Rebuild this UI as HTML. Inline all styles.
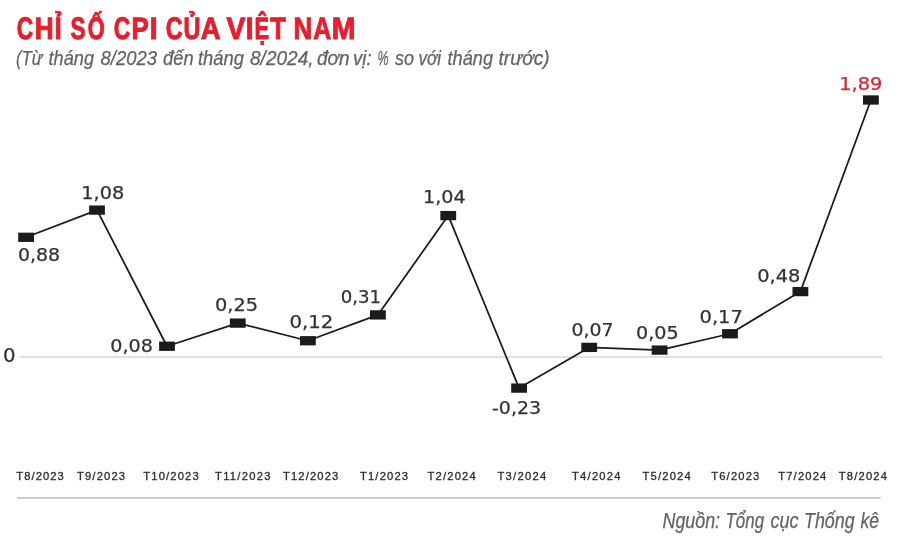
<!DOCTYPE html>
<html lang="vi"><head><meta charset="utf-8"><title>Chỉ số CPI của Việt Nam</title>
<style>
html,body{margin:0;padding:0;background:#fff}
svg{display:block}
.t{font-family:"Liberation Sans",sans-serif;font-weight:bold;fill:#e81e2c;stroke:#e81e2c;stroke-width:1.0;stroke-linejoin:miter;text-rendering:geometricPrecision}
.s{font-family:"Liberation Sans",sans-serif;font-style:italic;fill:#626262;stroke:#626262;stroke-width:.25}
.d{font-family:"DejaVu Sans","Liberation Sans",sans-serif;stroke-width:.25}
.x{font-family:"Liberation Sans",sans-serif;fill:#2b2b2b;stroke:#2b2b2b;stroke-width:.3}
</style></head><body>
<svg width="900" height="538" viewBox="0 0 900 538">
<rect width="900" height="538" fill="#fff"/>
<line x1="20" y1="357" x2="882" y2="357" stroke="#d6d6d6" stroke-width="1.7"/>
<line x1="17" y1="497.9" x2="880.7" y2="497.9" stroke="#c9c9c9" stroke-width="1.7"/>
<polyline fill="none" stroke="#1a1a1a" stroke-width="1.75" stroke-linejoin="round" points="26.10,237.30 97.00,210.10 167.00,346.25 237.75,323.10 307.90,340.75 377.90,314.90 448.25,215.60 519.10,388.10 589.20,347.40 659.60,350.10 730.00,333.75 800.40,291.60 870.90,100.00"/>
<rect x="18.20" y="232.65" width="15.8" height="9.3" fill="#1d1a1b"/>
<rect x="89.10" y="205.45" width="15.8" height="9.3" fill="#1d1a1b"/>
<rect x="159.10" y="341.60" width="15.8" height="9.3" fill="#1d1a1b"/>
<rect x="229.85" y="318.45" width="15.8" height="9.3" fill="#1d1a1b"/>
<rect x="300.00" y="336.10" width="15.8" height="9.3" fill="#1d1a1b"/>
<rect x="370.00" y="310.25" width="15.8" height="9.3" fill="#1d1a1b"/>
<rect x="440.35" y="210.95" width="15.8" height="9.3" fill="#1d1a1b"/>
<rect x="511.20" y="383.45" width="15.8" height="9.3" fill="#1d1a1b"/>
<rect x="581.30" y="342.75" width="15.8" height="9.3" fill="#1d1a1b"/>
<rect x="651.70" y="345.45" width="15.8" height="9.3" fill="#1d1a1b"/>
<rect x="722.10" y="329.10" width="15.8" height="9.3" fill="#1d1a1b"/>
<rect x="792.50" y="286.95" width="15.8" height="9.3" fill="#1d1a1b"/>
<rect x="863.00" y="95.35" width="15.8" height="9.3" fill="#1d1a1b"/>
<text class="t" y="39.00" font-size="31" aria-label="CHỈ SỐ CPI CỦA VIỆT NAM"><tspan x="16.85" textLength="16.48" lengthAdjust="spacingAndGlyphs">C</tspan><tspan x="34.63" textLength="18.88" lengthAdjust="spacingAndGlyphs">H</tspan><tspan x="54.62" textLength="7.23" lengthAdjust="spacingAndGlyphs">Ỉ</tspan> <tspan x="70.53" textLength="15.06" lengthAdjust="spacingAndGlyphs">S</tspan><tspan x="87.64" textLength="17.06" lengthAdjust="spacingAndGlyphs">Ố</tspan> <tspan x="113.85" textLength="16.52" lengthAdjust="spacingAndGlyphs">C</tspan><tspan x="131.47" textLength="17.23" lengthAdjust="spacingAndGlyphs">P</tspan><tspan x="149.69" textLength="7.77" lengthAdjust="spacingAndGlyphs">I</tspan> <tspan x="165.69" textLength="16.82" lengthAdjust="spacingAndGlyphs">C</tspan><tspan x="183.56" textLength="17.00" lengthAdjust="spacingAndGlyphs">Ủ</tspan><tspan x="200.63" textLength="18.80" lengthAdjust="spacingAndGlyphs">A</tspan> <tspan x="226.44" textLength="18.89" lengthAdjust="spacingAndGlyphs">V</tspan><tspan x="245.70" textLength="7.77" lengthAdjust="spacingAndGlyphs">I</tspan><tspan x="254.38" textLength="14.60" lengthAdjust="spacingAndGlyphs">Ệ</tspan><tspan x="270.22" textLength="15.59" lengthAdjust="spacingAndGlyphs">T</tspan> <tspan x="293.50" textLength="18.67" lengthAdjust="spacingAndGlyphs">N</tspan><tspan x="313.20" textLength="18.00" lengthAdjust="spacingAndGlyphs">A</tspan><tspan x="331.63" textLength="23.73" lengthAdjust="spacingAndGlyphs">M</tspan></text>
<text class="d" x="18.00" y="261.40" font-size="17.2" fill="#333333" stroke="#333333" textLength="42.12" lengthAdjust="spacingAndGlyphs">0,88</text>
<text class="d" x="81.25" y="199.20" font-size="17.2" fill="#333333" stroke="#333333" textLength="42.98" lengthAdjust="spacingAndGlyphs">1,08</text>
<text class="d" x="110.25" y="351.60" font-size="17.2" fill="#333333" stroke="#333333" textLength="42.59" lengthAdjust="spacingAndGlyphs">0,08</text>
<text class="d" x="215.00" y="311.00" font-size="17.2" fill="#333333" stroke="#333333" textLength="43.10" lengthAdjust="spacingAndGlyphs">0,25</text>
<text class="d" x="289.50" y="327.80" font-size="17.2" fill="#333333" stroke="#333333" textLength="43.92" lengthAdjust="spacingAndGlyphs">0,12</text>
<text class="d" x="340.75" y="302.50" font-size="17.2" fill="#333333" stroke="#333333" textLength="40.39" lengthAdjust="spacingAndGlyphs">0,31</text>
<text class="d" x="423.00" y="203.00" font-size="17.2" fill="#333333" stroke="#333333" textLength="42.64" lengthAdjust="spacingAndGlyphs">1,04</text>
<text class="d" x="492.00" y="414.25" font-size="17.2" fill="#333333" stroke="#333333" textLength="49.09" lengthAdjust="spacingAndGlyphs">-0,23</text>
<text class="d" x="571.50" y="335.75" font-size="17.2" fill="#333333" stroke="#333333" textLength="42.11" lengthAdjust="spacingAndGlyphs">0,07</text>
<text class="d" x="636.00" y="338.75" font-size="17.2" fill="#333333" stroke="#333333" textLength="42.64" lengthAdjust="spacingAndGlyphs">0,05</text>
<text class="d" x="699.50" y="323.40" font-size="17.2" fill="#333333" stroke="#333333" textLength="43.37" lengthAdjust="spacingAndGlyphs">0,17</text>
<text class="d" x="757.25" y="282.15" font-size="17.2" fill="#333333" stroke="#333333" textLength="43.13" lengthAdjust="spacingAndGlyphs">0,48</text>
<text class="d" x="839.25" y="89.90" font-size="17.2" fill="#d9232e" stroke="#d9232e" textLength="43.08" lengthAdjust="spacingAndGlyphs">1,89</text>
<text class="x" x="16.25" y="479.80" font-size="11.2" textLength="47.50" lengthAdjust="spacing">T8/2023</text>
<text class="x" x="77.00" y="479.80" font-size="11.2" textLength="48.00" lengthAdjust="spacing">T9/2023</text>
<text class="x" x="143.25" y="479.80" font-size="11.2" textLength="55.50" lengthAdjust="spacing">T10/2023</text>
<text class="x" x="215.00" y="479.80" font-size="11.2" textLength="55.50" lengthAdjust="spacing">T11/2023</text>
<text class="x" x="283.00" y="479.80" font-size="11.2" textLength="55.25" lengthAdjust="spacing">T12/2023</text>
<text class="x" x="360.00" y="479.80" font-size="11.2" textLength="48.00" lengthAdjust="spacing">T1/2023</text>
<text class="x" x="427.50" y="479.80" font-size="11.2" textLength="48.25" lengthAdjust="spacing">T2/2024</text>
<text class="x" x="497.50" y="479.80" font-size="11.2" textLength="48.75" lengthAdjust="spacing">T3/2024</text>
<text class="x" x="572.00" y="479.80" font-size="11.2" textLength="48.50" lengthAdjust="spacing">T4/2024</text>
<text class="x" x="642.50" y="479.80" font-size="11.2" textLength="48.25" lengthAdjust="spacing">T5/2024</text>
<text class="x" x="711.25" y="479.80" font-size="11.2" textLength="48.00" lengthAdjust="spacing">T6/2023</text>
<text class="x" x="778.25" y="479.80" font-size="11.2" textLength="48.00" lengthAdjust="spacing">T7/2024</text>
<text class="x" x="838.75" y="479.80" font-size="11.2" textLength="48.25" lengthAdjust="spacing">T8/2024</text>
<text class="d" x="3.00" y="361.60" font-size="19" fill="#333333" stroke="#333333" textLength="12.57" lengthAdjust="spacingAndGlyphs">0</text>
<text class="s" y="64.80" font-size="21"><tspan x="16.00" textLength="26.52" lengthAdjust="spacingAndGlyphs">(Từ</tspan> <tspan x="48.50" textLength="45.52" lengthAdjust="spacingAndGlyphs">tháng</tspan> <tspan x="100.50" textLength="56.51" lengthAdjust="spacingAndGlyphs">8/2023</tspan> <tspan x="163.00" textLength="30.63" lengthAdjust="spacingAndGlyphs">đến</tspan> <tspan x="198.00" textLength="46.02" lengthAdjust="spacingAndGlyphs">tháng</tspan> <tspan x="250.00" textLength="63.59" lengthAdjust="spacingAndGlyphs">8/2024,</tspan> <tspan x="317.00" textLength="32.62" lengthAdjust="spacingAndGlyphs">đơn</tspan> <tspan x="353.00" textLength="18.73" lengthAdjust="spacingAndGlyphs">vị:</tspan> <tspan x="377.50" textLength="11.11" lengthAdjust="spacingAndGlyphs">%</tspan> <tspan x="395.00" textLength="19.06" lengthAdjust="spacingAndGlyphs">so</tspan> <tspan x="418.50" textLength="22.52" lengthAdjust="spacingAndGlyphs">với</tspan> <tspan x="447.50" textLength="45.52" lengthAdjust="spacingAndGlyphs">tháng</tspan> <tspan x="498.50" textLength="51.06" lengthAdjust="spacingAndGlyphs">trước)</tspan></text>
<text class="s" y="527.80" font-size="21.5"><tspan x="662.50" textLength="57.56" lengthAdjust="spacingAndGlyphs">Nguồn:</tspan> <tspan x="725.50" textLength="38.60" lengthAdjust="spacingAndGlyphs">Tổng</tspan> <tspan x="770.50" textLength="28.04" lengthAdjust="spacingAndGlyphs">cục</tspan> <tspan x="804.00" textLength="50.62" lengthAdjust="spacingAndGlyphs">Thống</tspan> <tspan x="860.50" textLength="18.62" lengthAdjust="spacingAndGlyphs">kê</tspan></text>
</svg>
</body></html>
